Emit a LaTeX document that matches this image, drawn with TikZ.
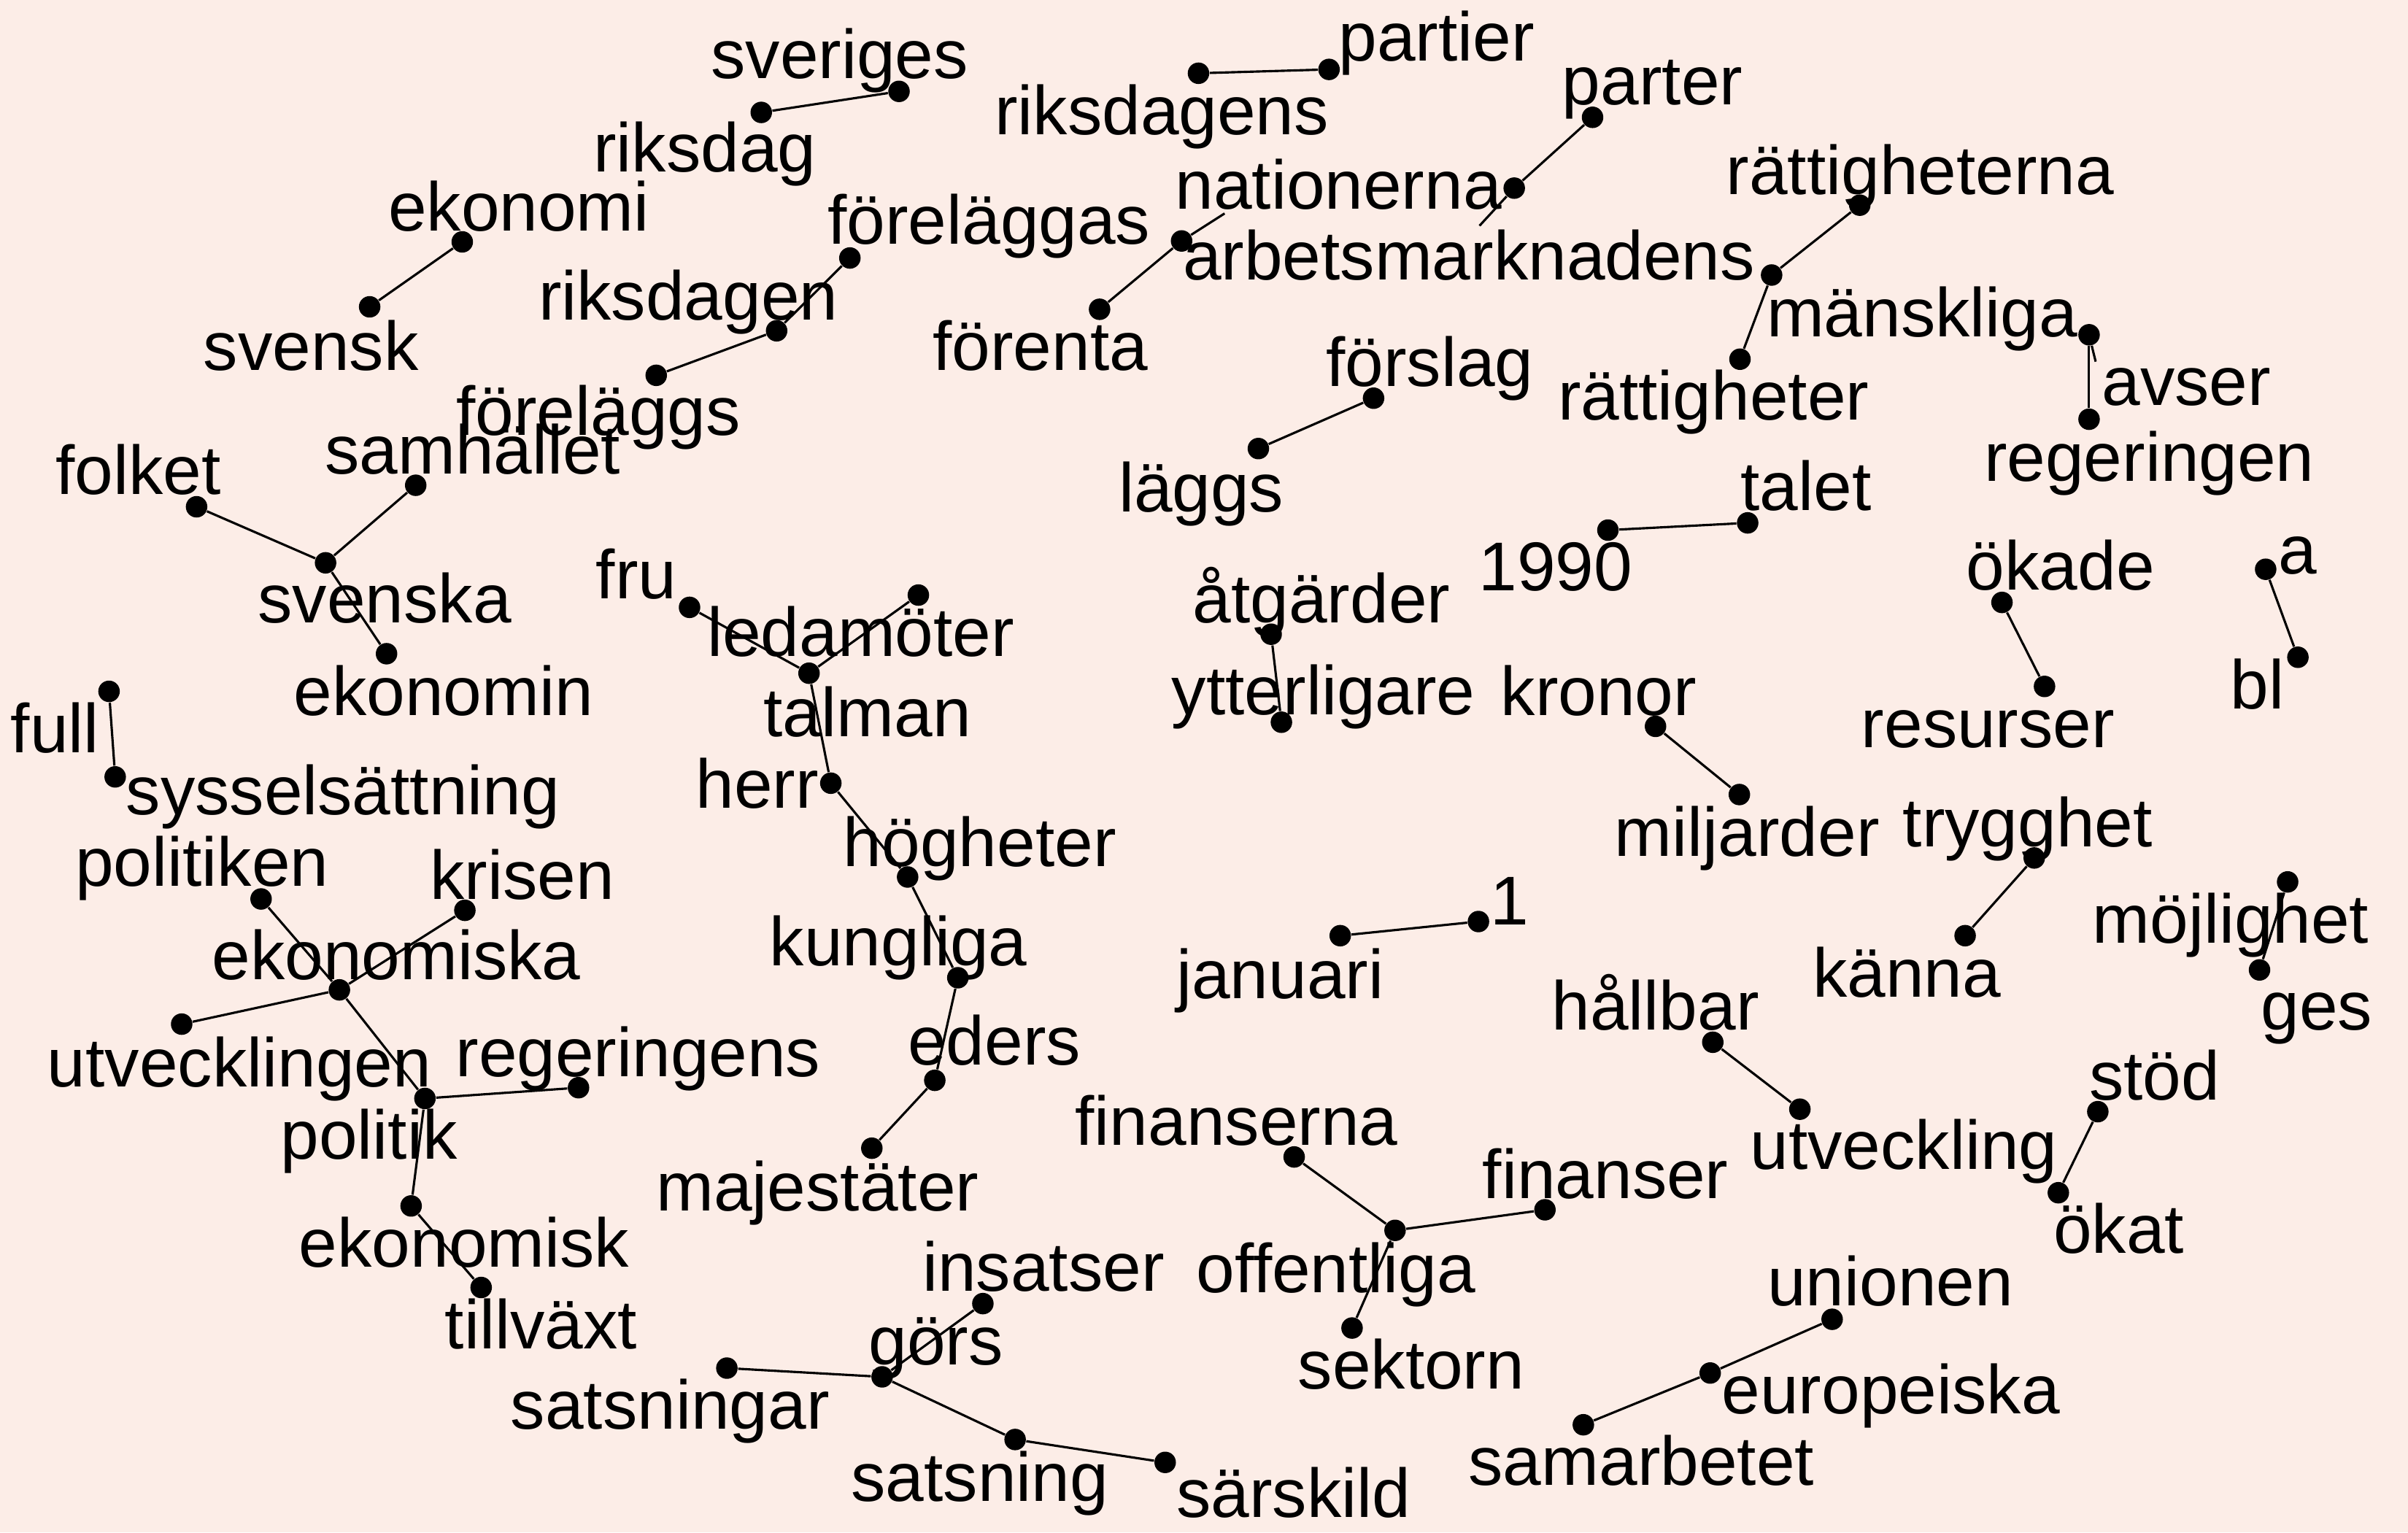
\documentclass[tikz,border=0pt]{standalone}
\usepackage{fontspec}
\setmainfont{Liberation Sans}
\definecolor{paper}{RGB}{252,237,231}

\begin{document}
\begin{tikzpicture}[x=0.02cm,y=-0.02cm,
    word/.style={anchor=base,inner sep=0pt,font=\fontsize{25.6}{30}\selectfont},
    dot/.style={circle,fill=black,inner sep=0pt,minimum size=0.28cm},
    edge/.style={line width=0.85pt}]
    \fill[paper] (0,0) rectangle (1568,998);
    \useasboundingbox (0,0) rectangle (1568,998);

    \node[dot] (sveriges) at (585.4,59.5) {};
    \node[dot] (riksdag) at (495.7,73.2) {};
    \node[dot] (riksdagens) at (780.4,47.7) {};
    \node[dot] (partier) at (865.4,45.2) {};
    \node[dot] (parter) at (1037,76.4) {};
    \node[dot] (arbetsmarknadens) at (986,122.5) {};
    \node[dot] (nationerna) at (769.4,156.9) {};
    \node[dot] (forenta) at (716,201.4) {};
    \node[dot] (ekonomi) at (301,157.5) {};
    \node[dot] (svensk) at (240.7,199.8) {};
    \node[dot] (forelaggas) at (553.4,168) {};
    \node[dot] (riksdagen) at (505.7,215.4) {};
    \node[dot] (forelaggs) at (427.3,244.4) {};
    \node[dot] (rattigheterna) at (1211,133.6) {};
    \node[dot] (manskliga) at (1153.6,179.1) {};
    \node[dot] (rattigheter) at (1133,233.9) {};
    \node[dot] (avser) at (1360.3,218) {};
    \node[dot] (regeringen) at (1360.3,273) {};
    \node[dot] (forslag) at (894.4,259.3) {};
    \node[dot] (laggs) at (819.4,292.1) {};
    \node[dot] (folket) at (128,330) {};
    \node[dot] (samhallet) at (270.7,316) {};
    \node[dot] (svenska) at (212,366.5) {};
    \node[dot] (ekonomin) at (251.7,425.7) {};
    \node[dot] (n1990) at (1047,345.2) {};
    \node[dot] (talet) at (1138,340.5) {};
    \node[dot] (okade) at (1303.6,392.3) {};
    \node[dot] (resurser) at (1331.3,447) {};
    \node[dot] (a) at (1475.3,370.7) {};
    \node[dot] (bl) at (1496.3,428) {};
    \node[dot] (fru) at (449,395.5) {};
    \node[dot] (ledamoter) at (598,387.5) {};
    \node[dot] (talman) at (526.8,438.4) {};
    \node[dot] (herr) at (541,510) {};
    \node[dot] (hogheter) at (591,571.1) {};
    \node[dot] (kungliga) at (623.7,636.7) {};
    \node[dot] (eders) at (608.7,703.5) {};
    \node[dot] (majestater) at (567.7,747.7) {};
    \node[dot] (atgarder) at (827.7,413) {};
    \node[dot] (ytterligare) at (834.4,470.3) {};
    \node[dot] (kronor) at (1078,473) {};
    \node[dot] (miljarder) at (1132.6,517.4) {};
    \node[dot] (full) at (71,450.2) {};
    \node[dot] (sysselsattning) at (75,505.9) {};
    \node[dot] (politiken) at (170,585.4) {};
    \node[dot] (krisen) at (302.7,592.8) {};
    \node[dot] (ekonomiska) at (221,644.6) {};
    \node[dot] (utvecklingen) at (118.3,666.9) {};
    \node[dot] (politik) at (276.7,715.3) {};
    \node[dot] (regeringens) at (376.7,708.3) {};
    \node[dot] (ekonomisk) at (267.7,785.3) {};
    \node[dot] (tillvaxt) at (313.3,838.4) {};
    \node[dot] (trygghet) at (1324.6,558.7) {};
    \node[dot] (kanna) at (1279.6,609.3) {};
    \node[dot] (mojlighet) at (1489.6,574.3) {};
    \node[dot] (ges) at (1471.3,631.6) {};
    \node[dot] (januari) at (872.7,609.3) {};
    \node[dot] (n1) at (962.7,600.1) {};
    \node[dot] (hallbar) at (1115.3,678.7) {};
    \node[dot] (utveckling) at (1172,722.3) {};
    \node[dot] (stod) at (1366,723.9) {};
    \node[dot] (okat) at (1340.3,776.7) {};
    \node[dot] (finanserna) at (842.7,753.4) {};
    \node[dot] (offentliga) at (908.4,801.2) {};
    \node[dot] (finanser) at (1006,787.8) {};
    \node[dot] (sektorn) at (880.4,864.8) {};
    \node[dot] (insatser) at (640,848.9) {};
    \node[dot] (gors) at (574.4,896.6) {};
    \node[dot] (satsningar) at (473.3,890.9) {};
    \node[dot] (satsning) at (661,937.4) {};
    \node[dot] (sarskild) at (758.7,952.3) {};
    \node[dot] (unionen) at (1193,859.1) {};
    \node[dot] (europeiska) at (1113.6,894.1) {};
    \node[dot] (samarbetet) at (1031,927.8) {};

    \coordinate (nationerna-stub) at (797.4,139);
    \coordinate (arbetsmarknadens-stub) at (963.4,147);
    \coordinate (avser-stub) at (1364.6,235.5);

    \draw[edge] (riksdag) -- (sveriges);
    \draw[edge] (riksdagens) -- (partier);
    \draw[edge] (arbetsmarknadens) -- (parter);
    \draw[edge] (arbetsmarknadens) -- (arbetsmarknadens-stub);
    \draw[edge] (forenta) -- (nationerna);
    \draw[edge] (nationerna) -- (nationerna-stub);
    \draw[edge] (svensk) -- (ekonomi);
    \draw[edge] (riksdagen) -- (forelaggas);
    \draw[edge] (forelaggs) -- (riksdagen);
    \draw[edge] (manskliga) -- (rattigheterna);
    \draw[edge] (manskliga) -- (rattigheter);
    \draw[edge] (avser) -- (regeringen);
    \draw[edge] (avser) -- (avser-stub);
    \draw[edge] (laggs) -- (forslag);
    \draw[edge] (folket) -- (svenska);
    \draw[edge] (samhallet) -- (svenska);
    \draw[edge] (svenska) -- (ekonomin);
    \draw[edge] (n1990) -- (talet);
    \draw[edge] (okade) -- (resurser);
    \draw[edge] (a) -- (bl);
    \draw[edge] (fru) -- (talman);
    \draw[edge] (ledamoter) -- (talman);
    \draw[edge] (talman) -- (herr);
    \draw[edge] (herr) -- (hogheter);
    \draw[edge] (hogheter) -- (kungliga);
    \draw[edge] (kungliga) -- (eders);
    \draw[edge] (eders) -- (majestater);
    \draw[edge] (atgarder) -- (ytterligare);
    \draw[edge] (kronor) -- (miljarder);
    \draw[edge] (full) -- (sysselsattning);
    \draw[edge] (politiken) -- (ekonomiska);
    \draw[edge] (krisen) -- (ekonomiska);
    \draw[edge] (utvecklingen) -- (ekonomiska);
    \draw[edge] (ekonomiska) -- (politik);
    \draw[edge] (regeringens) -- (politik);
    \draw[edge] (politik) -- (ekonomisk);
    \draw[edge] (ekonomisk) -- (tillvaxt);
    \draw[edge] (kanna) -- (trygghet);
    \draw[edge] (mojlighet) -- (ges);
    \draw[edge] (januari) -- (n1);
    \draw[edge] (hallbar) -- (utveckling);
    \draw[edge] (okat) -- (stod);
    \draw[edge] (finanserna) -- (offentliga);
    \draw[edge] (offentliga) -- (finanser);
    \draw[edge] (offentliga) -- (sektorn);
    \draw[edge] (insatser) -- (gors);
    \draw[edge] (satsningar) -- (gors);
    \draw[edge] (gors) -- (satsning);
    \draw[edge] (sarskild) -- (satsning);
    \draw[edge] (samarbetet) -- (europeiska);
    \draw[edge] (europeiska) -- (unionen);

    \node[word] (sveriges-txt) at (546.7,51) {sveriges};
    \node[word] (riksdag-txt) at (459,112) {riksdag};
    \node[word] (riksdagens-txt) at (756.5,87.5) {riksdagens};
    \node[word] (partier-txt) at (935.5,39.8) {partier};
    \node[word] (parter-txt) at (1076,68.4) {parter};
    \node[word] (arbetsmarknadens-txt) at (956.5,182) {arbetsmarknadens};
    \node[word] (nationerna-txt) at (871.5,136.2) {nationerna};
    \node[word] (forenta-txt) at (677.4,240.9) {förenta};
    \node[word] (ekonomi-txt) at (337.8,150.5) {ekonomi};
    \node[word] (svensk-txt) at (202.5,240.9) {svensk};
    \node[word] (forelaggas-txt) at (644,159.1) {föreläggas};
    \node[word] (riksdagen-txt) at (448.2,208.4) {riksdagen};
    \node[word] (forelaggs-txt) at (389.7,283.2) {föreläggs};
    \node[word] (rattigheterna-txt) at (1250.3,126.6) {rättigheterna};
    \node[word] (manskliga-txt) at (1251.6,219.5) {mänskliga};
    \node[word] (rattigheter-txt) at (1115.7,273.6) {rättigheter};
    \node[word] (avser-txt) at (1423.7,264.1) {avser};
    \node[word] (regeringen-txt) at (1399.5,313.4) {regeringen};
    \node[word] (forslag-txt) at (931,251.4) {förslag};
    \node[word] (laggs-txt) at (782.2,333.4) {läggs};
    \node[word] (folket-txt) at (90,322) {folket};
    \node[word] (samhallet-txt) at (307.8,308.6) {samhället};
    \node[word] (svenska-txt) at (250.5,405.7) {svenska};
    \node[word] (ekonomin-txt) at (288.8,466.1) {ekonomin};
    \node[word] (n1990-txt) at (1013,384.5) {1990};
    \node[word] (talet-txt) at (1176,332.5) {talet};
    \node[word] (okade-txt) at (1341.7,384) {ökade};
    \node[word] (resurser-txt) at (1294.5,486.8) {resurser};
    \node[word] (a-txt) at (1496,373.9) {a};
    \node[word] (bl-txt) at (1470,461.4) {bl};
    \node[word] (fru-txt) at (414.3,389.8) {fru};
    \node[word] (ledamoter-txt) at (560.5,427.5) {ledamöter};
    \node[word] (talman-txt) at (564.8,479.6) {talman};
    \node[word] (herr-txt) at (493,526) {herr};
    \node[word] (hogheter-txt) at (638,564.1) {högheter};
    \node[word] (kungliga-txt) at (585,628.7) {kungliga};
    \node[word] (eders-txt) at (647.4,693.6) {eders};
    \node[word] (majestater-txt) at (532.3,788.4) {majestäter};
    \node[word] (atgarder-txt) at (860.5,405.7) {åtgärder};
    \node[word] (ytterligare-txt) at (861.8,465.2) {ytterligare};
    \node[word] (kronor-txt) at (1041,466.1) {kronor};
    \node[word] (miljarder-txt) at (1137.6,557.8) {miljarder};
    \node[word] (full-txt) at (35.8,490) {full};
    \node[word] (sysselsattning-txt) at (223.3,530.7) {sysselsättning};
    \node[word] (politiken-txt) at (131.5,576.9) {politiken};
    \node[word] (krisen-txt) at (340,585.4) {krisen};
    \node[word] (ekonomiska-txt) at (258,637.9) {ekonomiska};
    \node[word] (utvecklingen-txt) at (155.8,707.9) {utvecklingen};
    \node[word] (politik-txt) at (240.2,755) {politik};
    \node[word] (regeringens-txt) at (415.5,701) {regeringens};
    \node[word] (ekonomisk-txt) at (302.2,825) {ekonomisk};
    \node[word] (tillvaxt-txt) at (352.2,878.2) {tillväxt};
    \node[word] (trygghet-txt) at (1320.3,551.4) {trygghet};
    \node[word] (kanna-txt) at (1241.7,649.1) {känna};
    \node[word] (mojlighet-txt) at (1452.5,614.1) {möjlighet};
    \node[word] (ges-txt) at (1508.6,670.7) {ges};
    \node[word] (januari-txt) at (833.5,650) {januari};
    \node[word] (n1-txt) at (983,602.3) {1};
    \node[word] (hallbar-txt) at (1078,670.7) {hållbar};
    \node[word] (utveckling-txt) at (1239.7,761.4) {utveckling};
    \node[word] (stod-txt) at (1403,716.2) {stöd};
    \node[word] (okat-txt) at (1379.7,816.1) {ökat};
    \node[word] (finanserna-txt) at (805.2,745.5) {finanserna};
    \node[word] (offentliga-txt) at (870,841.9) {offentliga};
    \node[word] (finanser-txt) at (1045.4,780.5) {finanser};
    \node[word] (sektorn-txt) at (918.9,904.6) {sektorn};
    \node[word] (insatser-txt) at (679.4,841) {insatser};
    \node[word] (gors-txt) at (609.5,888.7) {görs};
    \node[word] (satsningar-txt) at (436.3,930.7) {satsningar};
    \node[word] (satsning-txt) at (638,977.8) {satsning};
    \node[word] (sarskild-txt) at (842.3,988) {särskild};
    \node[word] (unionen-txt) at (1231,850.5) {unionen};
    \node[word] (europeiska-txt) at (1231.2,920.5) {europeiska};
    \node[word] (samarbetet-txt) at (1068.8,967.2) {samarbetet};
\end{tikzpicture}
\end{document}
